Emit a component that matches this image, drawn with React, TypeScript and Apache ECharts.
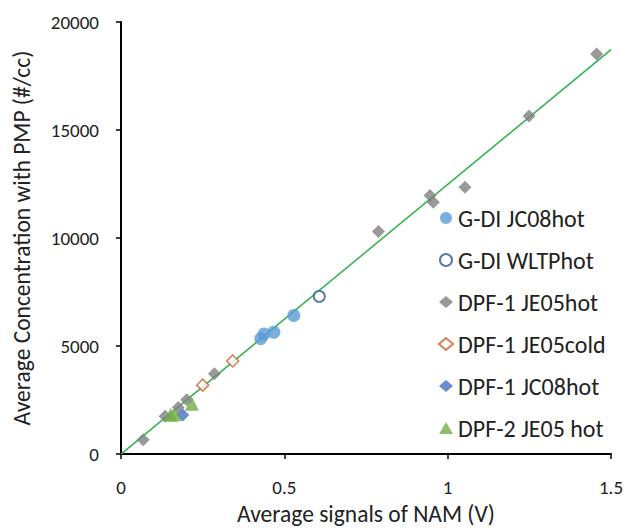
import React, { useEffect, useRef } from "react";
import * as echarts from "echarts";

const FONT = "Carlito, Calibri, Lato, 'Open Sans', sans-serif";

const xTicks = [0, 0.5, 1, 1.5];
const yTicks = [0, 5000, 10000, 15000, 20000];

const gdiJc08X = [0.428, 0.438, 0.468, 0.529];
const gdiJc08Y = [5350, 5560, 5640, 6420];

const gdiWltpX = [0.607];
const gdiWltpY = [7300];

const dpf1HotX = [0.068, 0.135, 0.175, 0.201, 0.286, 0.788, 0.946, 0.956, 1.053, 1.249, 1.456];
const dpf1HotY = [660, 1750, 2160, 2510, 3720, 10300, 11970, 11660, 12350, 15650, 18520];

const dpf1ColdX = [0.25, 0.342];
const dpf1ColdY = [3190, 4310];

const dpf1Jc08X = [0.189];
const dpf1Jc08Y = [1810];

const dpf2HotX = [0.152, 0.165, 0.217];
const dpf2HotY = [1820, 1840, 2330];

const fitX = [0, 1.5];
const fitY = [0, 18720];

const zip = (xs: number[], ys: number[]) => xs.map((x, i) => [x, ys[i]]);

export default function App() {
  const ref = useRef<HTMLDivElement>(null);
  useEffect(() => {
    document.body.style.margin = "0";
    if (!ref.current) return;
    const chart = echarts.init(ref.current, null, { renderer: "svg" });
    chart.setOption({
      animation: false,
      textStyle: { fontFamily: FONT },
      grid: { left: 121, right: 27, top: 22, bottom: 74 },
      xAxis: {
        type: "value",
        min: xTicks[0],
        max: xTicks[xTicks.length - 1],
        interval: 0.5,
        name: "Average signals of NAM (V)",
        nameLocation: "middle",
        nameGap: 47,
        nameTextStyle: { fontFamily: FONT, fontSize: 23.5, lineHeight: 24, color: "#222" },
        axisLine: { onZero: false, lineStyle: { color: "#000", width: 2 } },
        axisTick: { show: true, inside: false, length: 5, lineStyle: { color: "#000", width: 1.5 } },
        axisLabel: {
          fontFamily: FONT,
          fontSize: 19,
          color: "#222",
          margin: 24,
          formatter: (v: number) => String(v),
        },
        splitLine: { show: false },
      },
      yAxis: {
        type: "value",
        min: yTicks[0],
        max: yTicks[yTicks.length - 1],
        interval: 5000,
        name: "Average Concentration with PMP (#/cc)",
        nameLocation: "middle",
        nameGap: 86,
        nameTextStyle: { fontFamily: FONT, fontSize: 23.5, lineHeight: 26, color: "#222" },
        axisLine: { onZero: false, lineStyle: { color: "#000", width: 2 } },
        axisTick: { show: true, inside: false, length: 5, lineStyle: { color: "#000", width: 1.5 } },
        axisLabel: {
          fontFamily: FONT,
          fontSize: 19,
          color: "#222",
          margin: 22,
          formatter: (v: number) => String(v),
        },
        splitLine: { show: false },
      },
      legend: {
        orient: "vertical",
        left: 433,
        top: 201,
        itemWidth: 14,
        itemHeight: 12,
        itemGap: 18,
        textStyle: { fontFamily: FONT, fontSize: 24, color: "#222", lineHeight: 24 },
        data: [
          "G-DI JC08hot",
          "G-DI WLTPhot",
          "DPF-1 JE05hot",
          "DPF-1 JE05cold",
          "DPF-1 JC08hot",
          "DPF-2 JE05 hot",
        ],
      },
      series: [
        {
          type: "line",
          name: "fit",
          data: zip(fitX, fitY),
          showSymbol: false,
          symbol: "none",
          lineStyle: { color: "#2db34a", width: 1.5 },
          z: 1,
        },
        {
          type: "scatter",
          name: "G-DI JC08hot",
          data: zip(gdiJc08X, gdiJc08Y),
          symbol: "circle",
          symbolSize: 13,
          itemStyle: { color: "#5b9bd5" },
          z: 3,
        },
        {
          type: "scatter",
          name: "G-DI WLTPhot",
          data: zip(gdiWltpX, gdiWltpY),
          symbol: "circle",
          symbolSize: 11,
          itemStyle: { color: "#ffffff", borderColor: "#2f5597", borderWidth: 1.8 },
          z: 3,
        },
        {
          type: "scatter",
          name: "DPF-1 JE05hot",
          data: zip(dpf1HotX, dpf1HotY),
          symbol: "diamond",
          symbolSize: 13,
          itemStyle: { color: "#7f7f7f" },
          z: 3,
        },
        {
          type: "scatter",
          name: "DPF-1 JE05cold",
          data: zip(dpf1ColdX, dpf1ColdY),
          symbol: "diamond",
          symbolSize: 12,
          itemStyle: { color: "#ffffff", borderColor: "#d0602a", borderWidth: 1.6 },
          z: 3,
        },
        {
          type: "scatter",
          name: "DPF-1 JC08hot",
          data: zip(dpf1Jc08X, dpf1Jc08Y),
          symbol: "diamond",
          symbolSize: 13,
          itemStyle: { color: "#4472c4" },
          z: 3,
        },
        {
          type: "scatter",
          name: "DPF-2 JE05 hot",
          data: zip(dpf2HotX, dpf2HotY),
          symbol: "triangle",
          symbolSize: 14,
          itemStyle: { color: "#70ad47" },
          z: 4,
        },
      ],
    });
    return () => chart.dispose();
  }, []);
  return <div ref={ref} style={{ width: 638, height: 531 }} />;
}
